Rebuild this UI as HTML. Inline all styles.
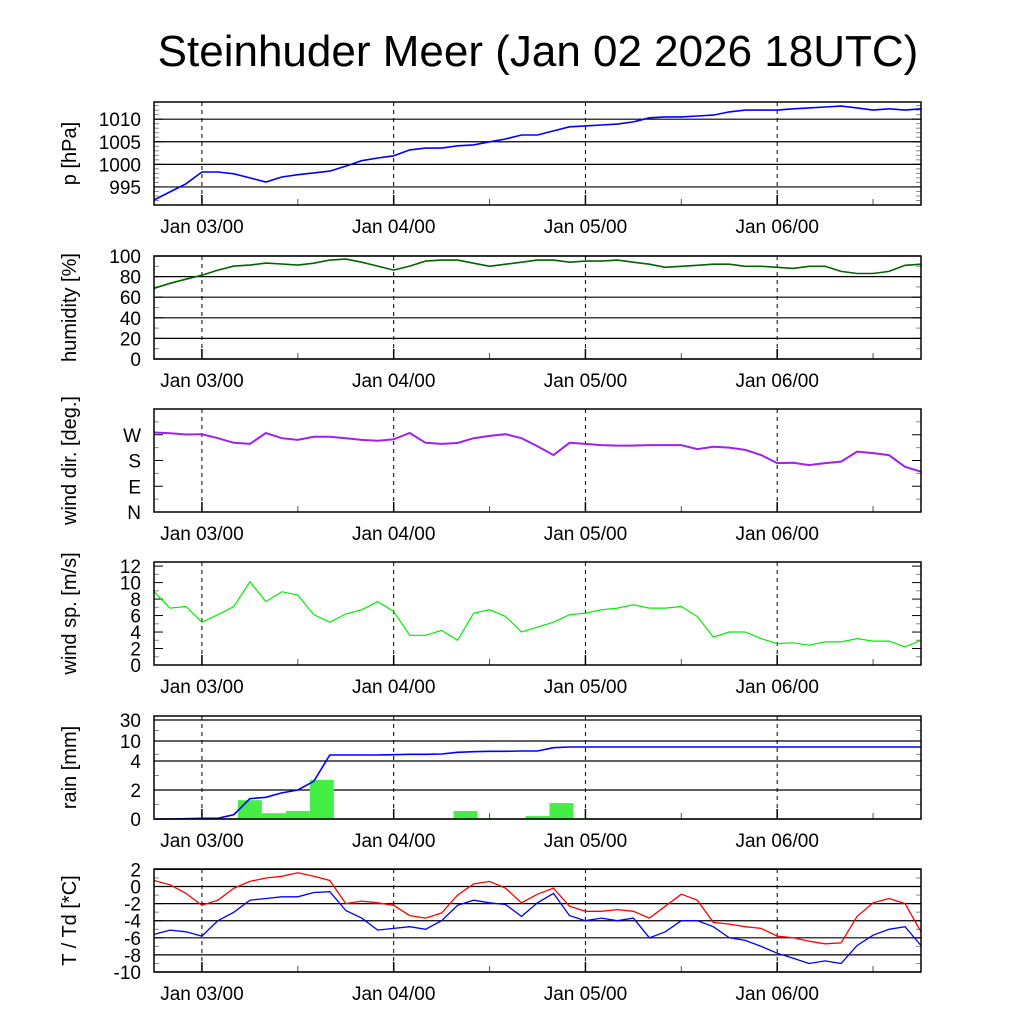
<!DOCTYPE html>
<html><head><meta charset="utf-8"><style>
body{margin:0;background:#fff;}
svg{display:block;font-family:"Liberation Sans",sans-serif;}
</style></head><body>
<svg id="chart" width="1024" height="1024" viewBox="0 0 1024 1024">
<text x="538" y="66" text-anchor="middle" font-size="44">Steinhuder Meer (Jan 02 2026 18UTC)</text>
</svg>
<script>
// hours since Jan 02 18UTC, every 2 h
const hours = [0,2,4,6,8,10,12,14,16,18,20,22,24,26,28,30,32,34,36,38,40,42,44,46,48,50,52,54,56,58,60,62,64,66,68,70,72,74,76,78,80,82,84,86,88,90,92,94,96];
const pressure = [992.1,993.9,995.7,998.3,998.3,997.9,997,996.1,997.2,997.7,998.1,998.5,999.6,1000.8,1001.4,1001.9,1003.2,1003.6,1003.6,1004.1,1004.3,1005,1005.6,1006.5,1006.5,1007.4,1008.3,1008.5,1008.7,1008.9,1009.4,1010.3,1010.5,1010.5,1010.7,1010.9,1011.6,1012,1012,1012,1012.3,1012.5,1012.7,1012.9,1012.5,1012,1012.3,1012,1012.3];
const humidity = [68.6,73.5,77.5,81.4,86.3,90.2,91.2,93.1,92.2,91.2,93,96,97,94,90.2,86.3,90.2,95,96,96,93,90,92,94,96,96,94,95,95,96,94,92,89,90,91,92,92,90,90,89,88,90,90,85,83,83,85,91,92];
const windDir = [278,275,271,272,258,242,238,276,258,252,263,263,258,252,249,254,276,242,238,241,258,266,272,258,230,199,242,238,234,232,232,234,234,234,220,228,225,217,199,171,172,164,171,176,211,206,199,158,141];
const windSpeed = [8.9,6.9,7.1,5.2,6.1,7.1,10.1,7.7,8.9,8.5,6.1,5.2,6.2,6.7,7.7,6.5,3.6,3.6,4.2,3.0,6.3,6.7,5.9,4.0,4.6,5.2,6.1,6.3,6.7,6.9,7.3,6.9,6.9,7.1,5.9,3.4,4.0,4.0,3.2,2.6,2.7,2.4,2.8,2.8,3.2,2.9,2.9,2.2,3.0];
const rainCum = [0,0,0.02,0.05,0.05,0.3,1.4,1.5,1.8,2.0,2.6,5.8,5.8,5.8,5.8,5.9,6.0,6.0,6.1,6.6,6.8,6.9,6.9,7.0,7.0,8.0,8.2,8.2,8.2,8.2,8.2,8.2,8.2,8.2,8.2,8.2,8.2,8.2,8.2,8.2,8.2,8.2,8.2,8.2,8.2,8.2,8.2,8.2,8.2];
const rainBarStart = [10.5,13.5,16.5,19.5,37.5,40.5,46.5,49.5,52.5];
const rainBarValue = [1.3,0.4,0.55,2.7,0.55,0.05,0.2,1.1,0.05];
const temp = [0.7,0.2,-0.8,-2.2,-1.6,-0.2,0.6,1.0,1.2,1.6,1.2,0.7,-2.0,-1.7,-1.9,-2.2,-3.4,-3.7,-3.1,-1.0,0.3,0.6,-0.2,-1.9,-0.9,-0.2,-2.3,-2.9,-2.9,-2.7,-2.9,-3.7,-2.3,-0.9,-1.6,-4.2,-4.4,-4.7,-4.9,-5.8,-6.0,-6.4,-6.7,-6.6,-3.5,-1.9,-1.4,-2.0,-5.3];
const dewpoint = [-5.6,-5.1,-5.3,-5.8,-4.0,-3.0,-1.6,-1.4,-1.2,-1.2,-0.7,-0.6,-2.8,-3.7,-5.1,-4.9,-4.7,-5.0,-4.0,-2.2,-1.6,-1.9,-2.1,-3.5,-1.9,-0.8,-3.4,-4.0,-3.7,-4.0,-3.7,-6.0,-5.3,-4.0,-4.0,-4.7,-6.0,-6.3,-7.0,-7.8,-8.4,-9.0,-8.7,-9.0,-6.9,-5.7,-5.0,-4.7,-6.9];
const xTickLabels = ["Jan 03/00","Jan 04/00","Jan 05/00","Jan 06/00"];
const xTickHours = [6,30,54,78];

const NS="http://www.w3.org/2000/svg";
const svg=document.getElementById('chart');
const X0=154,X1=921,H=103;
function xs(h){return X0+(X1-X0)*h/96;}
function mk(tag,attrs,parent){const e=document.createElementNS(NS,tag);for(const k in attrs)e.setAttribute(k,attrs[k]);(parent||svg).appendChild(e);return e;}
function lin(d0,d1,top){return v=>top+H-(v-d0)/(d1-d0)*H;}
function pw(dv,pv,top){return v=>{for(let i=0;i<dv.length-1;i++){if(v<=dv[i+1]||i==dv.length-2){const t=(v-dv[i])/(dv[i+1]-dv[i]);return top+H-(pv[i]+t*(pv[i+1]-pv[i]));}}};}

const panels=[
 {name:'pressure',top:102,title:'p [hPa]',ys:lin(991,1013.8,102),ticks:[995,1000,1005,1010],labels:['995','1000','1005','1010'],grid:true,minor:[992,993,994,996,997,998,999,1001,1002,1003,1004,1006,1007,1008,1009,1011,1012,1013]},
 {name:'humidity',top:256,title:'humidity [%]',ys:lin(0,100,256),ticks:[0,20,40,60,80,100],labels:['0','20','40','60','80','100'],grid:true,minor:[10,30,50,70,90]},
 {name:'wind-direction',top:409,title:'wind dir. [deg.]',ys:lin(0,360,409),ticks:[0,90,180,270,360],labels:['N','E','S','W',''],grid:false,minor:[45,135,225,315]},
 {name:'wind-speed',top:562,title:'wind sp. [m/s]',ys:lin(0,12.5,562),ticks:[0,2,4,6,8,10,12],labels:['0','2','4','6','8','10','12'],grid:false,minor:[1,3,5,7,9,11]},
 {name:'rain',top:716,title:'rain [mm]',ys:pw([0,2,4,10,30,40],[0,29,58,78,99,103],716),ticks:[0,2,4,10,30],labels:['0','2','4','10','30'],grid:true,minor:[1,3,6,20]},
 {name:'temperature',top:869,title:'T / Td [*C]',ys:lin(-10,2.05,869),ticks:[-10,-8,-6,-4,-2,0,2],labels:['-10','-8','-6','-4','-2','0','2'],grid:true,minor:[-9,-7,-5,-3,-1,1]}
];

panels.forEach(p=>{
 const g=mk('g',{});
 
 
 p.g=g;
 p.ticks.forEach((t,i)=>{
  const y=p.ys(t);
  if(p.grid){const l=mk('line',{x1:X0,x2:X1,y1:y,y2:y,stroke:'#000','stroke-width':1.2},g);}
  mk('line',{x1:X0,x2:X0+9,y1:y,y2:y,stroke:'#000'},g);
  mk('line',{x1:X1-9,x2:X1,y1:y,y2:y,stroke:'#000'},g);
  const tx=mk('text',{x:141,y:y+7,'text-anchor':'end','font-size':19},g);
  tx.textContent=p.labels[i];
  
  
 });
 p.minor.forEach(t=>{const y=p.ys(t);mk('line',{x1:X0,x2:X0+5,y1:y,y2:y,stroke:'#888'},g);mk('line',{x1:X1-5,x2:X1,y1:y,y2:y,stroke:'#888'},g);});
 xTickHours.forEach((h,i)=>{
  const x=xs(h);
  const d=mk('line',{x1:x,x2:x,y1:p.top,y2:p.top+H,stroke:'#000','stroke-dasharray':'4,4'},g);
  
  
  mk('line',{x1:x,x2:x,y1:p.top+H-10,y2:p.top+H,stroke:'#000','stroke-width':1.5},g);
  mk('line',{x1:xs(h+12),x2:xs(h+12),y1:p.top+H-6,y2:p.top+H,stroke:'#555'},g);
  const tl=mk('text',{x:x,y:p.top+H+28,'text-anchor':'middle','font-size':19},g);
  tl.textContent=xTickLabels[i];
  
  
 });
 const cy=p.top+H/2;
 const at=mk('text',{x:0,y:0,'text-anchor':'middle','font-size':20,transform:`translate(76,${cy}) rotate(-90)`},g);
 at.textContent=p.title;
 
 
});

function line(p,vals,color,name,w){
 const d=vals.map((v,i)=>(i?'L':'M')+xs(hours[i]).toFixed(1)+','+p.ys(v).toFixed(1)).join('');
 const pa=mk('path',{d:d,fill:'none',stroke:color,'stroke-width':w||1.6},p.g);
 
 
}
rainBarStart.forEach((h,i)=>{
 const p=panels[4];
 const y=p.ys(rainBarValue[i]);
 const r=mk('rect',{x:xs(h),y:y,width:xs(h+3)-xs(h),height:p.top+H-y,fill:'#44ee44'},p.g);
 
 
});
line(panels[0],pressure,'#0000ff','pressure-line');
line(panels[1],humidity,'#006400','humidity-line');
line(panels[2],windDir,'#a020f0','wind-direction-line',2);
line(panels[3],windSpeed,'#00ee00','wind-speed-line',1.2);
line(panels[4],rainCum,'#0000ff','rain-cumulative-line');
line(panels[5],temp,'#ff0000','temperature-line',1.3);
line(panels[5],dewpoint,'#0000ff','dewpoint-line',1.3);
panels.forEach(p=>{
 const f=mk('rect',{x:X0,y:p.top,width:X1-X0,height:H,fill:'none',stroke:'#000','stroke-width':1.5},p.g);
 
 
});
</script>
</body></html>
